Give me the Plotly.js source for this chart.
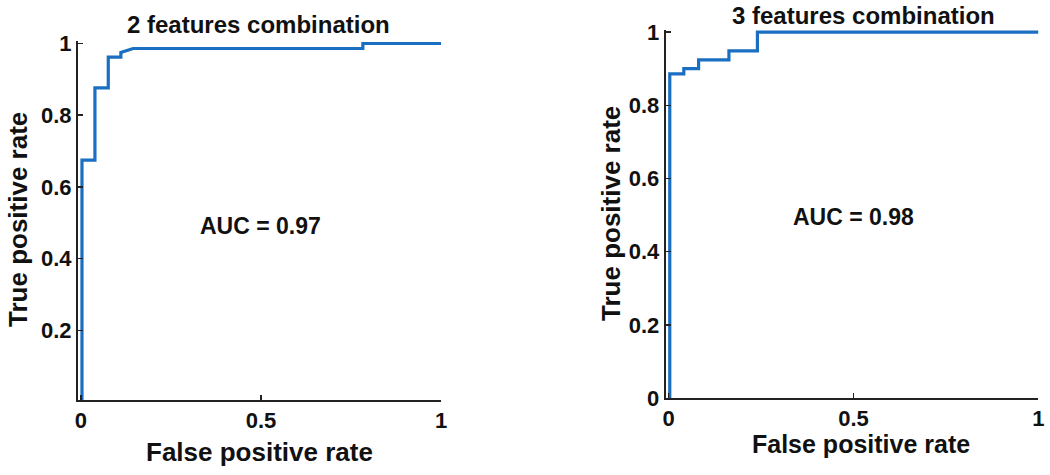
<!DOCTYPE html>
<html>
<head>
<meta charset="utf-8">
<script src="https://cdn.plot.ly/plotly-3.0.1.min.js"></script>
<style>
  html, body { margin: 0; padding: 0; background: #fff; }
  #chart { width: 1050px; height: 475px; }
</style>
</head>
<body>
<div id="chart"></div>
<script>
// ROC curve points (step curves)
const fpr2 = [0.003, 0.003, 0.039, 0.039, 0.076, 0.076, 0.111, 0.111, 0.145, 0.783, 0.783, 1.0];
const tpr2 = [0.0, 0.675, 0.675, 0.876, 0.876, 0.962, 0.962, 0.975, 0.986, 0.986, 1.0, 1.0];

const fpr3 = [0.003, 0.003, 0.041, 0.041, 0.081, 0.081, 0.163, 0.163, 0.240, 0.240, 1.0];
const tpr3 = [0.0, 0.886, 0.886, 0.900, 0.900, 0.924, 0.924, 0.949, 0.949, 1.0, 1.0];

const titles = ['2 features combination', '3 features combination'];
const aucLabels = ['AUC = 0.97', 'AUC = 0.98'];

const lineColor = '#1a6fc2';
const font = { family: 'Liberation Sans, Arial, sans-serif', size: 20, color: '#111' };
const bold = (size) => Object.assign({}, font, { size: size, weight: 'bold' });

const traces = [
    { x: fpr2, y: tpr2, xaxis: 'x', yaxis: 'y', type: 'scatter', mode: 'lines',
      line: { color: lineColor, width: 3.2 }, hoverinfo: 'skip' },
    { x: fpr3, y: tpr3, xaxis: 'x2', yaxis: 'y2', type: 'scatter', mode: 'lines',
      line: { color: lineColor, width: 3.2 }, hoverinfo: 'skip' }
];

const axisBase = {
    showgrid: false, zeroline: false, showline: true, linecolor: '#222', linewidth: 2,
    ticks: 'inside', ticklen: 5, tickwidth: 1.5, tickcolor: '#222',
    tickfont: bold(22)
};

// small text helper in pixel terms
const label = (text, px, py, size, angle) => ({
    text: text, xref: 'paper', yref: 'paper', x: px / 1050, y: 1 - py / 475,
    xanchor: 'center', yanchor: 'middle', showarrow: false,
    textangle: angle || 0, font: bold(size)
});

const layout = {
    width: 1050, height: 475,
    margin: { l: 0, r: 0, t: 0, b: 0 },
    paper_bgcolor: '#fff', plot_bgcolor: '#fff',
    showlegend: false,
    font: font,
    xaxis: Object.assign({}, axisBase, {
        domain: [0.0743, 0.42], range: [-0.008, 1], anchor: 'y',
        tickvals: [0, 0.5, 1], ticktext: ['0', '0.5', '1']
    }),
    yaxis: Object.assign({}, axisBase, {
        domain: [0.158, 0.913], range: [0.006, 1.006], anchor: 'x',
        tickvals: [0.2, 0.4, 0.6, 0.8, 1], ticktext: ['0.2', '0.4', '0.6', '0.8', '1']
    }),
    xaxis2: Object.assign({}, axisBase, {
        domain: [0.634, 0.989], range: [-0.008, 1], anchor: 'y2',
        tickvals: [0, 0.5, 1], ticktext: ['0', '0.5', '1']
    }),
    yaxis2: Object.assign({}, axisBase, {
        domain: [0.162, 0.937], range: [0, 1.006], anchor: 'x2',
        tickvals: [0, 0.2, 0.4, 0.6, 0.8, 1], ticktext: ['0', '0.2', '0.4', '0.6', '0.8', '1']
    }),
    annotations: [
        label(titles[0], 258, 25, 24),
        label(titles[1], 863, 16, 24),
        label(aucLabels[0], 260, 226, 23),
        label(aucLabels[1], 853, 217, 23),
        label('False positive rate', 259, 452, 26),
        label('False positive rate', 861, 444, 25),
        label('True positive rate', 18, 220, 26, -90),
        label('True positive rate', 611, 214, 26, -90)
    ]
};

Plotly.newPlot('chart', traces, layout, { staticPlot: true, displayModeBar: false });
</script>
</body>
</html>
